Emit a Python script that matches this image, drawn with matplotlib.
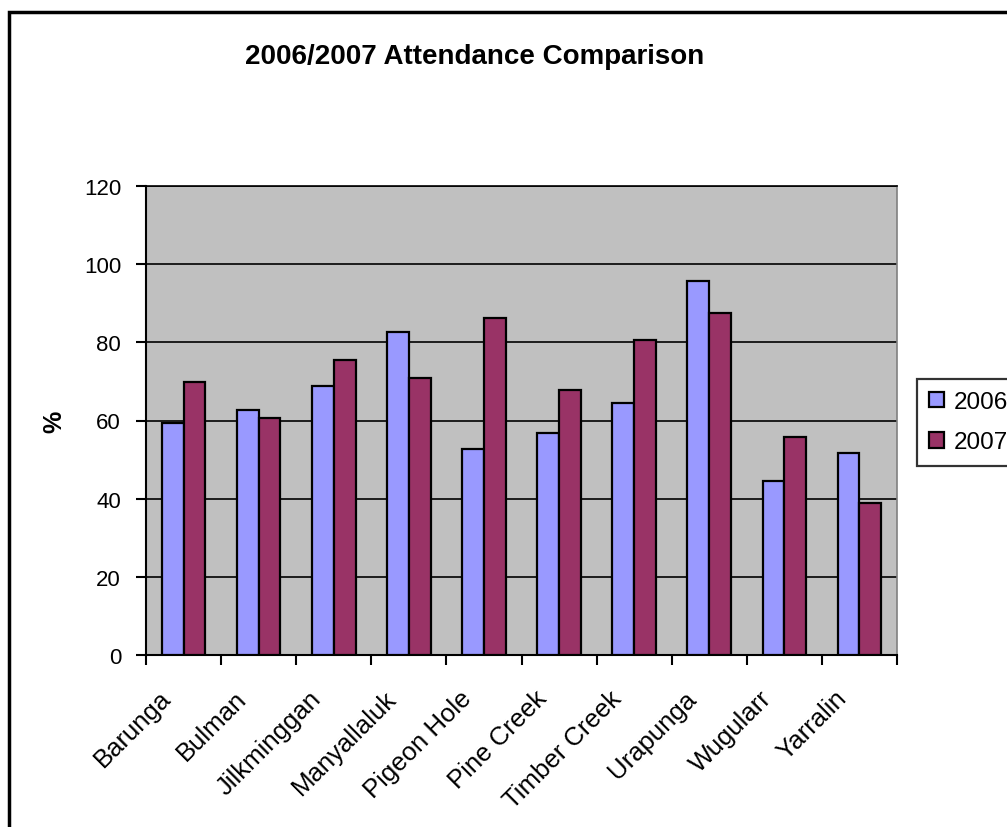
import numpy as np
import matplotlib
matplotlib.use('Agg')
from matplotlib import pyplot as plt
from matplotlib.patches import Rectangle
from matplotlib.transforms import ScaledTranslation

plt.rcParams['font.family'] = ['Liberation Sans', 'DejaVu Sans']

communities = ['Barunga', 'Bulman', 'Jilkminggan', 'Manyallaluk', 'Pigeon Hole',
               'Pine Creek', 'Timber Creek', 'Urapunga', 'Wugularr', 'Yarralin']
att_2006 = [59.3, 62.7, 68.8, 82.6, 52.6, 56.8, 64.4, 95.7, 44.6, 51.7]
att_2007 = [69.8, 60.6, 75.5, 70.9, 86.1, 67.9, 80.6, 87.6, 55.7, 39.0]
yticks = [0, 20, 40, 60, 80, 100, 120]

fig = plt.figure(figsize=(10.07, 8.28), dpi=100)
ax = fig.add_axes([146 / 1007, 1 - 656 / 828, (897 - 146) / 1007, (656 - 187) / 828])
ax.set_facecolor('#C0C0C0')

x = np.arange(len(communities))
w = 0.29
ax.bar(x - w / 2, att_2006, w, color='#9999FF', edgecolor='black', linewidth=1.6,
       label='2006', zorder=3)
ax.bar(x + w / 2, att_2007, w, color='#993366', edgecolor='black', linewidth=1.6,
       label='2007', zorder=3)

ax.set_xlim(-0.5, len(communities) - 0.5)
ax.set_ylim(0, 120)
ax.set_yticks(yticks)
ax.set_yticklabels([str(t) for t in yticks], fontsize=16)
ax.yaxis.grid(True, color='black', linewidth=1.2, zorder=1)
ax.set_axisbelow(True)

# ticks between categories, labels at the centres
ax.set_xticks(np.arange(-0.5, len(communities), 1.0))
ax.set_xticklabels([])
ax.set_xticks(x, minor=True)
ax.set_xticklabels(communities, minor=True, rotation=45, ha='right',
                   rotation_mode='anchor', fontsize=18.5)
ax.tick_params(axis='x', which='minor', length=0, pad=22)
ax.tick_params(axis='x', which='major', length=7, width=1.5, direction='out')
ax.tick_params(axis='y', length=7, width=1.5, direction='out', pad=11)

# pull the slanted names left so they end just short of the centre
shift = ScaledTranslation(-0.25, 0, fig.dpi_scale_trans)
for lbl in ax.get_xticklabels(minor=True):
    lbl.set_transform(lbl.get_transform() + shift)

for side in ['left', 'bottom']:
    ax.spines[side].set_linewidth(1.5)
    ax.spines[side].set_color('black')
ax.spines['top'].set_linewidth(1.2)
ax.spines['right'].set_color('#808080')
ax.spines['right'].set_linewidth(1.2)

ax.set_ylabel('%', fontsize=18, fontweight='bold')
ax.yaxis.set_label_coords((66 - 146) / 751, 0.5)
fig.text(475 / 1007, 1 - 57 / 828, '2006/2007 Attendance Comparison', ha='center',
         va='center', fontsize=20, fontweight='bold')

leg = ax.legend(loc='upper left', bbox_to_anchor=(917 / 1007, 1 - 380 / 828),
                bbox_transform=fig.transFigure, fontsize=17.5, frameon=True,
                fancybox=False, edgecolor='black', handlelength=0.6,
                handleheight=0.6, handletextpad=0.4, borderpad=0.5,
                labelspacing=0.75, borderaxespad=0)
leg.get_frame().set_linewidth(1.6)

# chart border, running off the right and bottom edges
fig.patches.append(Rectangle((9 / 1007, -0.1), 1.2, 1 - 13 / 828 + 0.1,
                             transform=fig.transFigure, fill=False,
                             edgecolor='black', linewidth=2.5))

fig.savefig('out.png', dpi=100)
